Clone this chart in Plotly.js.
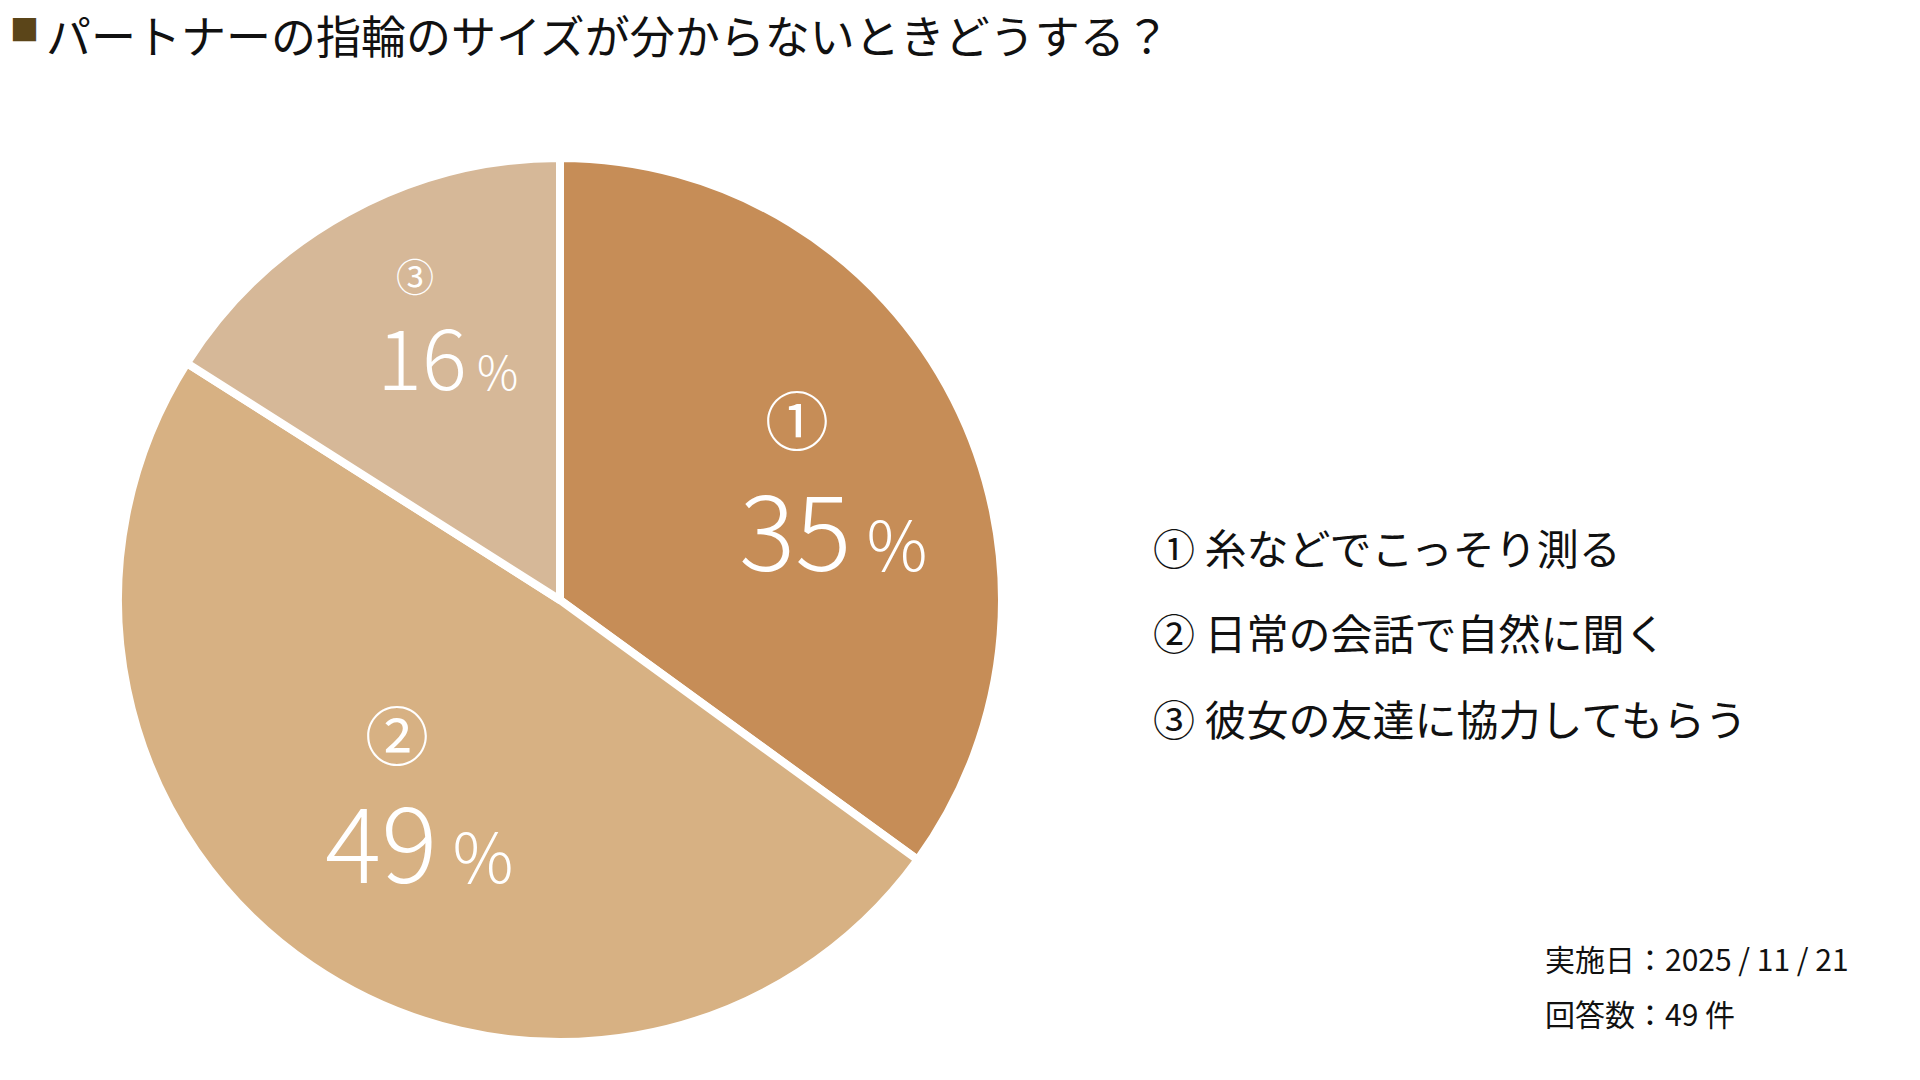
<!DOCTYPE html>
<html><head><meta charset="utf-8">
<script src="https://cdn.plot.ly/plotly-3.0.1.min.js"></script>
<style>html,body{margin:0;padding:0;background:#fff;}#chart{width:1920px;height:1080px;}</style>
</head><body><div id="chart"></div>
<script>
const titleText = "パートナーの指輪のサイズが分からないときどうする？";
const markers = ["①", "②", "③"];
const categories = ["糸などでこっそり測る", "日常の会話で自然に聞く", "彼女の友達に協力してもらう"];
const values = [35, 49, 16];
const colors = ["#C68D57", "#D7B183", "#D6B898"];
const footDate = "実施日：2025 / 11 / 21";
const footCount = "回答数：49 件";

const FONT = "'Noto Sans CJK JP', 'Noto Sans', sans-serif";
const W = 1920, H = 1080;
const px = x => x / W;
const py = y => 1 - y / H;

// label placement (pixel) per slice
const labelPos = [
  {cx: 797, cy: 417, csize: 64, nx: 833, ny: 525, nsize: 105, psize: 68},
  {cx: 397, cy: 732, csize: 64, nx: 419, ny: 837, nsize: 105, psize: 68},
  {cx: 415, cy: 274, csize: 38, nx: 447, ny: 354, nsize: 84, psize: 46}
];
const legendY = [546, 631, 717];

const annotations = [];
values.forEach((v, i) => {
  const p = labelPos[i];
  annotations.push({xref:'paper', yref:'paper', x:px(p.cx), y:py(p.cy), xanchor:'center', yanchor:'middle',
    text: markers[i], showarrow:false, font:{family:FONT, size:p.csize, color:'#ffffff'}});
  annotations.push({xref:'paper', yref:'paper', x:px(p.nx), y:py(p.ny), xanchor:'center', yanchor:'middle',
    text: v + '<span style="font-size:' + p.psize + 'px"> %</span>', showarrow:false,
    font:{family:FONT, size:p.nsize, color:'#ffffff', weight:300}});
});
categories.forEach((c, i) => {
  annotations.push({xref:'paper', yref:'paper', x:px(1151), y:py(legendY[i]), xanchor:'left', yanchor:'middle',
    text: markers[i] + ' ' + c, showarrow:false, font:{family:FONT, size:42, color:'#111111'}});
});
annotations.push({xref:'paper', yref:'paper', x:px(1543), y:py(958), xanchor:'left', yanchor:'middle',
  text: footDate, showarrow:false, font:{family:FONT, size:30, color:'#111111'}});
annotations.push({xref:'paper', yref:'paper', x:px(1543), y:py(1013), xanchor:'left', yanchor:'middle',
  text: footCount, showarrow:false, font:{family:FONT, size:30, color:'#111111'}});
annotations.push({xref:'paper', yref:'paper', x:px(8), y:py(28), xanchor:'left', yanchor:'middle',
  text: '■', showarrow:false, font:{family:FONT, size:29, color:'#5B4519'}});
annotations.push({xref:'paper', yref:'paper', x:px(44), y:1, xanchor:'left', yanchor:'top',
  text: titleText, showarrow:false, font:{family:FONT, size:45, color:'#111111'}});

const trace = {
  type:'pie', values: values, labels: categories, sort:false, direction:'clockwise', rotation:0,
  marker:{colors: colors, line:{color:'#ffffff', width:8}},
  textinfo:'none', hoverinfo:'none', showlegend:false,
  domain:{x:[px(560-442), px(560+442)], y:[py(600+442), py(600-442)]}
};

Plotly.newPlot('chart', [trace], {
  width:W, height:H, margin:{l:0,r:0,t:0,b:0}, paper_bgcolor:'#ffffff', plot_bgcolor:'#ffffff',
  showlegend:false, annotations: annotations, font:{family:FONT}
}, {displayModeBar:false, staticPlot:true});
</script></body></html>
